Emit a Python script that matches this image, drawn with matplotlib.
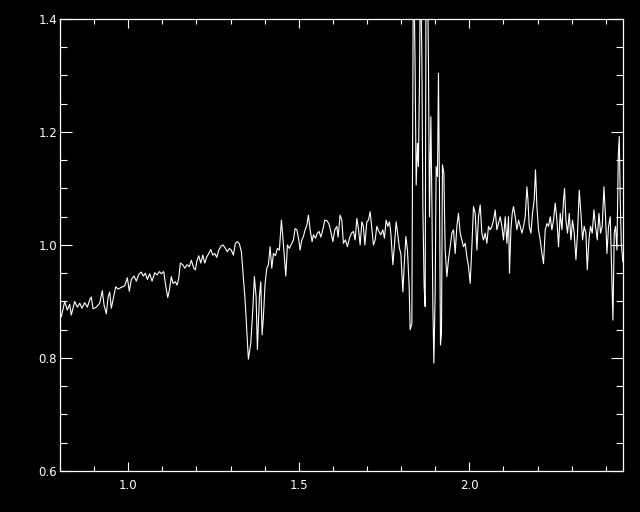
#!/usr/bin/env python3
"""
Plot a normalised near-IR spectrum in the IDL style (white on black).

Output:
- out.png
"""

from __future__ import annotations

import matplotlib

matplotlib.use("Agg")
import matplotlib.pyplot as plt
from matplotlib.ticker import MultipleLocator

# wavelength (micron)
WAVELENGTH = [
    0.8000, 0.8038, 0.8138, 0.8214, 0.8284, 0.8331, 0.8431, 0.8507, 0.8578, 0.8645,
    0.8724, 0.8801, 0.8871, 0.8918, 0.8968, 0.9065, 0.9164, 0.9240, 0.9290, 0.9358,
    0.9408, 0.9457, 0.9504, 0.9584, 0.9633, 0.9701, 0.9798, 0.9897, 0.9974, 1.0032,
    1.0091, 1.0170, 1.0238, 1.0308, 1.0384, 1.0443, 1.0501, 1.0560, 1.0630, 1.0698,
    1.0777, 1.0845, 1.0912, 1.0971, 1.1041, 1.1088, 1.1158, 1.1205, 1.1264, 1.1314,
    1.1381, 1.1431, 1.1481, 1.1528, 1.1598, 1.1657, 1.1724, 1.1792, 1.1850, 1.1921,
    1.1968, 1.2018, 1.2067, 1.2126, 1.2185, 1.2243, 1.2302, 1.2361, 1.2419, 1.2478,
    1.2537, 1.2595, 1.2654, 1.2721, 1.2780, 1.2848, 1.2906, 1.2965, 1.3023, 1.3082,
    1.3141, 1.3199, 1.3258, 1.3317, 1.3425, 1.3475, 1.3522, 1.3592, 1.3651, 1.3698,
    1.3748, 1.3786, 1.3845, 1.3886, 1.3924, 1.3962, 1.4012, 1.4062, 1.4109, 1.4158,
    1.4208, 1.4255, 1.4314, 1.4372, 1.4431, 1.4490, 1.4531, 1.4569, 1.4619, 1.4666,
    1.4724, 1.4795, 1.4842, 1.4891, 1.4941, 1.5000, 1.5038, 1.5088, 1.5135, 1.5185,
    1.5235, 1.5282, 1.5331, 1.5390, 1.5428, 1.5487, 1.5545, 1.5595, 1.5645, 1.5704,
    1.5762, 1.5821, 1.5880, 1.5938, 1.5997, 1.6056, 1.6114, 1.6152, 1.6211, 1.6261,
    1.6308, 1.6366, 1.6425, 1.6484, 1.6543, 1.6601, 1.6651, 1.6701, 1.6748, 1.6798,
    1.6848, 1.6894, 1.6935, 1.6994, 1.7041, 1.7091, 1.7141, 1.7188, 1.7238, 1.7287,
    1.7346, 1.7405, 1.7463, 1.7510, 1.7560, 1.7610, 1.7657, 1.7698, 1.7757, 1.7804,
    1.7853, 1.7903, 1.7950, 1.7991, 1.8050, 1.8088, 1.8138, 1.8185, 1.8235, 1.8264,
    1.8314, 1.8361, 1.8411, 1.8440, 1.8478, 1.8507, 1.8537, 1.8566, 1.8607, 1.8636,
    1.8674, 1.8704, 1.8733, 1.8771, 1.8801, 1.8830, 1.8871, 1.8900, 1.8930, 1.8959,
    1.8997, 1.9026, 1.9065, 1.9094, 1.9123, 1.9153, 1.9182, 1.9211, 1.9252, 1.9290,
    1.9340, 1.9387, 1.9437, 1.9487, 1.9534, 1.9584, 1.9633, 1.9680, 1.9730, 1.9780,
    1.9827, 1.9877, 1.9927, 1.9974, 2.0023, 2.0073, 2.0120, 2.0170, 2.0220, 2.0267,
    2.0317, 2.0366, 2.0413, 2.0463, 2.0513, 2.0560, 2.0610, 2.0660, 2.0707, 2.0757,
    2.0806, 2.0853, 2.0903, 2.0953, 2.1000, 2.1050, 2.1100, 2.1147, 2.1176, 2.1217,
    2.1255, 2.1293, 2.1343, 2.1393, 2.1440, 2.1490, 2.1540, 2.1587, 2.1636, 2.1686,
    2.1716, 2.1754, 2.1804, 2.1850, 2.1900, 2.1938, 2.1979, 2.2026, 2.2076, 2.2126,
    2.2173, 2.2223, 2.2273, 2.2320, 2.2370, 2.2419, 2.2466, 2.2516, 2.2566, 2.2613,
    2.2663, 2.2713, 2.2760, 2.2789, 2.2830, 2.2877, 2.2927, 2.2977, 2.3023, 2.3073,
    2.3123, 2.3170, 2.3220, 2.3270, 2.3317, 2.3367, 2.3416, 2.3455, 2.3504, 2.3551,
    2.3601, 2.3651, 2.3698, 2.3748, 2.3798, 2.3845, 2.3894, 2.3944, 2.3991, 2.4032,
    2.4079, 2.4129, 2.4179, 2.4208, 2.4246, 2.4284, 2.4326, 2.4364, 2.4393, 2.4422,
    2.4452, 2.4500,
]

# normalised flux at each wavelength
FLUX = [
    0.880, 0.873, 0.900, 0.885, 0.895, 0.876, 0.900, 0.890, 0.897, 0.888,
    0.898, 0.890, 0.903, 0.908, 0.887, 0.890, 0.897, 0.919, 0.894, 0.878,
    0.907, 0.917, 0.888, 0.911, 0.926, 0.922, 0.925, 0.928, 0.942, 0.918,
    0.939, 0.945, 0.936, 0.948, 0.952, 0.945, 0.950, 0.939, 0.949, 0.936,
    0.951, 0.947, 0.953, 0.949, 0.953, 0.932, 0.907, 0.920, 0.944, 0.932,
    0.935, 0.929, 0.941, 0.968, 0.965, 0.959, 0.965, 0.962, 0.973, 0.959,
    0.956, 0.973, 0.981, 0.968, 0.982, 0.968, 0.979, 0.985, 0.992, 0.982,
    0.985, 0.978, 0.991, 0.998, 1.000, 0.994, 0.988, 0.994, 0.991, 0.982,
    1.003, 1.006, 1.002, 0.988, 0.903, 0.850, 0.798, 0.826, 0.885, 0.944,
    0.908, 0.815, 0.908, 0.935, 0.841, 0.873, 0.932, 0.959, 0.965, 0.997,
    0.959, 0.985, 0.981, 0.994, 0.991, 1.044, 1.015, 0.985, 0.945, 1.000,
    0.994, 1.003, 1.009, 1.029, 1.027, 1.009, 0.991, 1.009, 1.015, 1.027,
    1.035, 1.053, 1.027, 1.006, 1.018, 1.012, 1.021, 1.024, 1.014, 1.027,
    1.044, 1.043, 1.038, 1.024, 1.006, 1.027, 1.033, 1.014, 1.053, 1.044,
    1.003, 1.009, 0.997, 1.012, 1.021, 1.024, 1.009, 1.047, 1.029, 1.000,
    1.041, 1.033, 1.000, 1.041, 1.044, 1.059, 1.029, 1.000, 1.009, 1.033,
    1.024, 1.018, 1.027, 1.012, 1.044, 1.033, 1.041, 1.021, 0.965, 1.000,
    1.041, 1.018, 0.994, 0.985, 0.917, 0.962, 1.015, 0.991, 0.926, 0.850,
    0.861, 1.550, 1.301, 1.106, 1.180, 1.139, 1.292, 1.500, 1.333, 1.068,
    0.926, 0.891, 1.550, 1.500, 1.316, 1.050, 1.227, 1.080, 0.891, 0.791,
    0.914, 1.139, 1.121, 1.304, 1.097, 0.823, 0.844, 1.142, 1.127, 0.991,
    0.944, 0.974, 0.997, 1.021, 1.027, 0.985, 1.033, 1.056, 1.021, 1.009,
    0.997, 1.003, 0.979, 0.962, 0.932, 0.997, 1.068, 1.056, 0.991, 1.050,
    1.071, 1.021, 1.009, 1.021, 1.003, 1.033, 1.027, 1.033, 1.044, 1.062,
    1.027, 1.038, 1.050, 1.033, 1.009, 1.050, 1.003, 1.050, 0.950, 1.027,
    1.056, 1.068, 1.050, 1.027, 1.044, 1.033, 1.021, 1.033, 1.050, 1.103,
    1.080, 1.033, 1.021, 1.056, 1.080, 1.133, 1.068, 1.027, 1.009, 0.985,
    0.967, 1.027, 1.038, 1.033, 1.050, 1.027, 1.044, 1.074, 1.044, 0.997,
    1.056, 1.027, 1.080, 1.100, 1.044, 1.021, 1.056, 1.009, 1.044, 1.021,
    0.974, 1.021, 1.097, 1.056, 1.009, 1.033, 1.021, 0.956, 1.009, 1.033,
    1.021, 1.062, 1.033, 1.009, 1.056, 1.021, 1.033, 1.103, 1.050, 0.985,
    1.033, 1.050, 0.932, 0.867, 1.021, 1.033, 0.991, 1.156, 1.192, 1.080,
    1.003, 0.970,
]

X_RANGE = (0.8, 2.449)
Y_RANGE = (0.6, 1.4)
X_TICKS = [1.0, 1.5, 2.0]
Y_TICKS = [0.6, 0.8, 1.0, 1.2, 1.4]


def render(out_path: str) -> None:
    fig = plt.figure(figsize=(6.4, 5.12), dpi=100, facecolor="black")
    ax = fig.add_axes([0.09375, 0.0801, 0.8790, 0.8828], facecolor="black")

    ax.plot(WAVELENGTH, FLUX, color="white", linewidth=0.8)

    ax.set_xlim(*X_RANGE)
    ax.set_ylim(*Y_RANGE)

    for spine in ax.spines.values():
        spine.set_color("white")
        spine.set_linewidth(0.9)

    ax.set_xticks(X_TICKS)
    ax.set_xticklabels([f"{v:.1f}" for v in X_TICKS])
    ax.set_yticks(Y_TICKS)
    ax.set_yticklabels([f"{v:.1f}" for v in Y_TICKS])
    ax.xaxis.set_minor_locator(MultipleLocator(0.1))
    ax.yaxis.set_minor_locator(MultipleLocator(0.05))

    ax.tick_params(axis="both", which="both", direction="in", colors="white",
                   top=True, right=True, width=0.8, labelsize=8.5)
    ax.tick_params(axis="x", which="major", length=6.8, pad=6)
    ax.tick_params(axis="x", which="minor", length=3.8)
    ax.tick_params(axis="y", which="major", length=8.6, pad=2)
    ax.tick_params(axis="y", which="minor", length=4.8)

    fig.savefig(out_path, dpi=100, facecolor="black")
    plt.close(fig)


def main() -> int:
    if len(WAVELENGTH) != len(FLUX):
        print(f"length mismatch: {len(WAVELENGTH)} vs {len(FLUX)}")
        return 1
    render("out.png")
    return 0


if __name__ == "__main__":
    raise SystemExit(main())
